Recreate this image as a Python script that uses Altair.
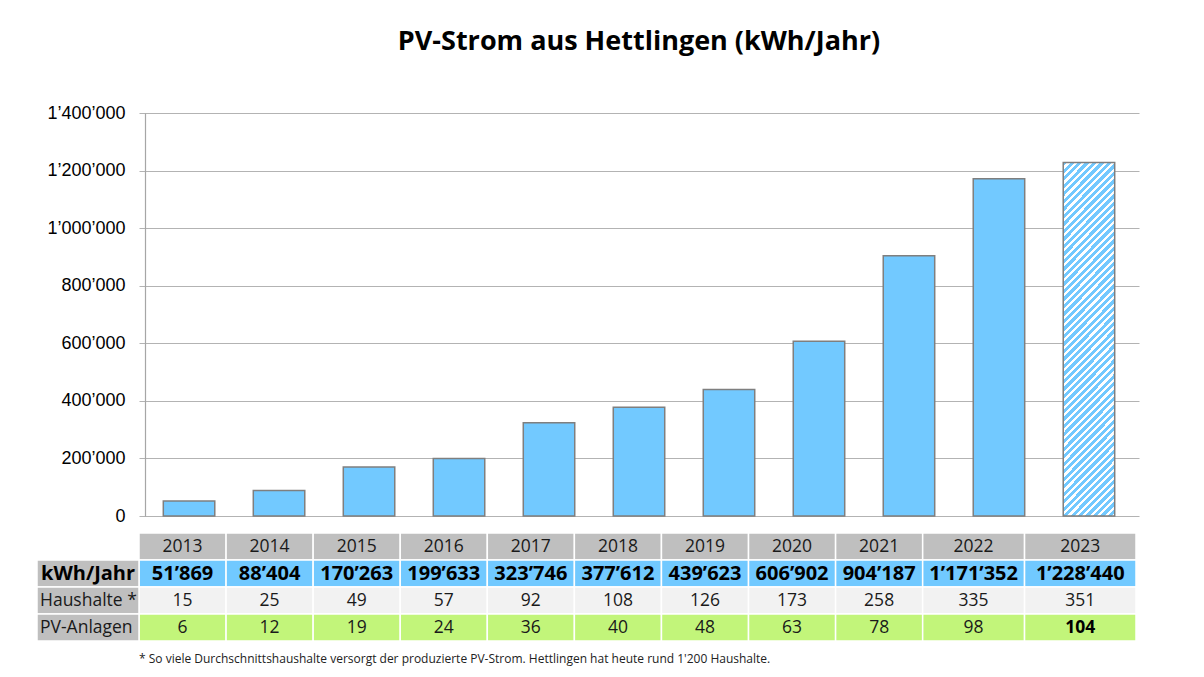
import altair as alt
import pandas as pd

# ---- data ----
years = ["2013", "2014", "2015", "2016", "2017", "2018", "2019", "2020", "2021", "2022", "2023"]
kwh = [51869, 88404, 170263, 199633, 323746, 377612, 439623, 606902, 904187, 1171352, 1228440]
haushalte = [15, 25, 49, 57, 92, 108, 126, 173, 258, 335, 351]
anlagen = [6, 12, 19, 24, 36, 40, 48, 63, 78, 98, 104]
estimated_year = "2023"

row_names = ["Jahr", "kWh/Jahr", "Haushalte *", "PV-Anlagen"]
title_text = "PV-Strom aus Hettlingen (kWh/Jahr)"
footnote = "* So viele Durchschnittshaushalte versorgt der produzierte PV-Strom. Hettlingen hat heute rund 1'200 Haushalte."

# ---- style ----
FONT = "Open Sans"
BAR_BLUE = "#72C9FF"
row_colors = ["#BFBFBF", "#71C9FF", "#F2F2F2", "#C2F57A"]
col_units = [1.0] * 9 + [1.17, 1.28]   # relative table column widths
PLOT_W, PLOT_H = 1000, 403
TABLE_W, TABLE_H = 997, 108


def fmt(v):
    return f"{v:,}".replace(",", "\u2019")


# hatch pattern for the estimated bar (diagonal stripes via a striped gradient)
bw, bh = 52.0, PLOT_H * kwh[-1] / 1400000
k = (bw + bh) / (bw ** 2 + bh ** 2)
n_stripes = 54
white_frac = 0.42
stops = []
for i in range(n_stripes):
    s = i / n_stripes
    m = (i + 1 - white_frac) / n_stripes
    e = (i + 1) / n_stripes
    stops += [alt.GradientStop(offset=s, color=BAR_BLUE),
              alt.GradientStop(offset=m, color=BAR_BLUE),
              alt.GradientStop(offset=m, color="#FFFFFF"),
              alt.GradientStop(offset=e, color="#FFFFFF")]
hatch = alt.LinearGradient(gradient="linear", stops=stops, x1=0, y1=0, x2=k * bw, y2=k * bh)

bars_df = pd.DataFrame({"Jahr": years, "kWh": kwh})

xband = alt.X("Jahr:N", axis=None, sort=years,
              scale=alt.Scale(paddingInner=0.428, paddingOuter=0.27))
yq = alt.Y("kWh:Q", title=None,
           scale=alt.Scale(domain=[0, 1400000], nice=False),
           axis=alt.Axis(values=[0, 200000, 400000, 600000, 800000, 1000000, 1200000, 1400000],
                         labelExpr="replace(format(datum.value, ','), regexp(',', 'g'), '\u2019')",
                         offset=-6, ticks=False, labelPadding=20,
                         domainColor="#A6A6A6", domainWidth=1.2,
                         gridColor="#B3B3B3", gridWidth=1.2,
                         labelFont="Liberation Sans", labelFontSize=18, labelColor="#000000"))

bars_main = alt.Chart(bars_df).transform_filter(
    alt.datum.Jahr != estimated_year
).mark_bar(fill=BAR_BLUE, stroke="#7F7F7F", strokeWidth=1.5).encode(x=xband, y=yq)

bars_est = alt.Chart(bars_df).transform_filter(
    alt.datum.Jahr == estimated_year
).mark_bar(fill=hatch, stroke="#7F7F7F", strokeWidth=1.5).encode(x=xband, y=yq)

bar_chart = alt.layer(bars_main, bars_est).properties(
    width=PLOT_W, height=PLOT_H,
    title=alt.TitleParams(title_text, font=FONT, fontSize=27, fontWeight="bold",
                          color="#000000", anchor="middle", frame="group", offset=48),
)

# ---- table ----
records = []
x0 = 0.0
for i, y in enumerate(years):
    x1 = x0 + col_units[i]
    vals = [y, fmt(kwh[i]), str(haushalte[i]), str(anlagen[i])]
    for r, v in zip(row_names, vals):
        bold = (r == "kWh/Jahr") or (r == "PV-Anlagen" and y == estimated_year)
        big = r == "kWh/Jahr"
        records.append({"row": r, "x0": x0, "x1": x1, "xc": (x0 + x1) / 2,
                        "label": v, "bold": bold, "big": big})
    x0 = x1
table_df = pd.DataFrame(records)
total_units = x0

xq = alt.Scale(domain=[0, total_units], nice=False, zero=False)
yrow = alt.Y("row:N", axis=None, sort=row_names,
             scale=alt.Scale(domain=row_names, paddingInner=0, paddingOuter=0))

cells = alt.Chart(table_df).mark_rect(stroke="white", strokeWidth=1.5).encode(
    x=alt.X("x0:Q", scale=xq, axis=None), x2="x1:Q", y=yrow,
    fill=alt.Fill("row:N", scale=alt.Scale(domain=row_names, range=row_colors), legend=None),
)
txt_normal = alt.Chart(table_df).transform_filter(~alt.datum.bold).mark_text(
    font=FONT, fontSize=17.5, color="#1A1A1A"
).encode(x=alt.X("xc:Q", scale=xq, axis=None), y=yrow, text="label:N")
txt_bold_small = alt.Chart(table_df).transform_filter(alt.datum.bold & ~alt.datum.big).mark_text(
    font=FONT, fontSize=17.5, fontWeight="bold", color="#000000"
).encode(x=alt.X("xc:Q", scale=xq, axis=None), y=yrow, text="label:N")
txt_bold_big = alt.Chart(table_df).transform_filter(alt.datum.big).mark_text(
    font=FONT, fontSize=20, fontWeight="bold", color="#000000"
).encode(x=alt.X("xc:Q", scale=xq, axis=None), y=yrow, text="label:N")

labels_df = pd.DataFrame({"row": row_names[1:], "bold": [True, False, False]})
label_cells = alt.Chart(labels_df).mark_rect(fill="#BFBFBF", stroke="white", strokeWidth=1.5).encode(
    x=alt.value(-102), x2=alt.value(0), y=yrow)
label_bold = alt.Chart(labels_df).transform_filter(alt.datum.bold).mark_text(
    font=FONT, fontSize=20, fontWeight="bold", align="left", color="#000000"
).encode(x=alt.value(-98), y=yrow, text="row:N")
label_norm = alt.Chart(labels_df).transform_filter(~alt.datum.bold).mark_text(
    font=FONT, fontSize=17.5, align="left", color="#1A1A1A"
).encode(x=alt.value(-99), y=yrow, text="row:N")

table_chart = alt.layer(cells, txt_normal, txt_bold_small, txt_bold_big,
                        label_cells, label_bold, label_norm).properties(
    width=TABLE_W, height=TABLE_H,
    title=alt.TitleParams(footnote, orient="bottom", anchor="start", frame="group",
                          font=FONT, fontSize=12, fontWeight="normal", color="#222222", offset=12),
)

chart = alt.vconcat(bar_chart, table_chart, spacing=17, bounds="flush").properties(
    padding={"left": 28, "top": 20, "right": 5, "bottom": 5},
).configure_view(stroke=None).resolve_scale(x="independent", y="independent")

chart.save("out.html", embed_options={"renderer": "svg", "actions": False})
